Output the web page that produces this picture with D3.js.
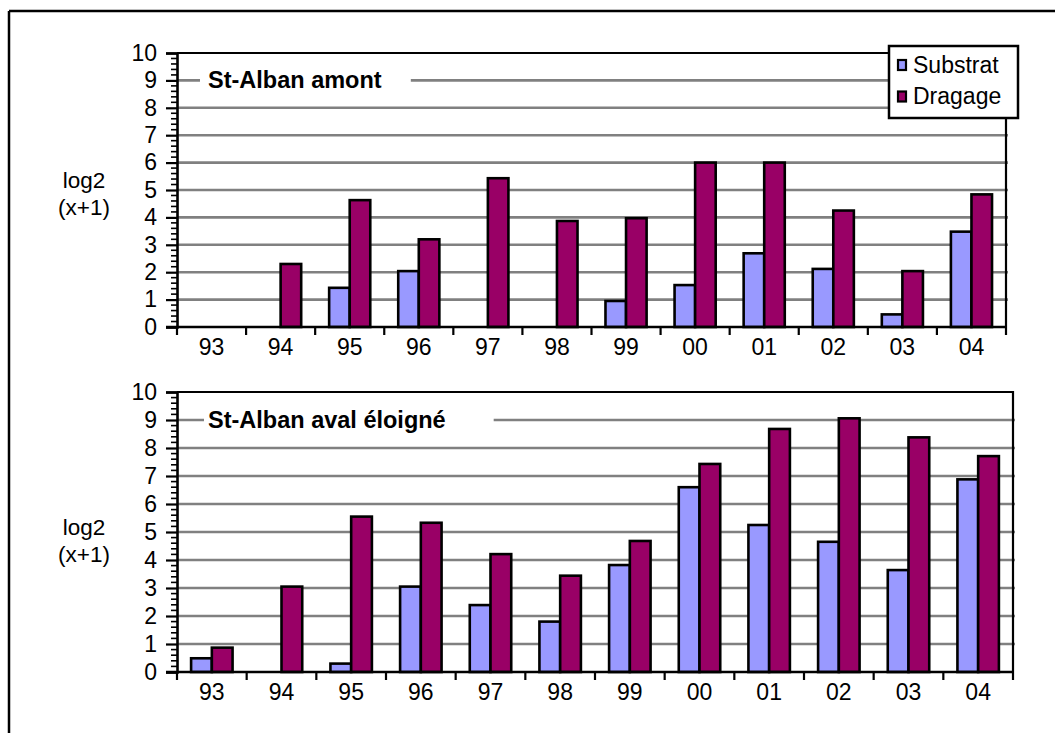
<!DOCTYPE html>
<html><head><meta charset="utf-8">
<script src="https://cdn.jsdelivr.net/npm/d3@7"></script>
<style>
html,body{margin:0;padding:0;background:#fff;}
svg text{font-family:"Liberation Sans",Arial,sans-serif;fill:#000;}
</style></head>
<body><svg id="c" width="1055" height="733"></svg>
<script>
const categories = ["93","94","95","96","97","98","99","00","01","02","03","04"];
const seriesNames = ["Substrat","Dragage"];
const amontSubstrat = [0, 0, 1.43, 2.04, 0, 0, 0.95, 1.53, 2.69, 2.12, 0.46, 3.48];
const amontDragage  = [0, 2.3, 4.63, 3.2, 5.43, 3.87, 3.97, 6.0, 6.0, 4.25, 2.04, 4.84];
const avalSubstrat  = [0.49, 0, 0.3, 3.05, 2.39, 1.8, 3.82, 6.6, 5.25, 4.65, 3.64, 6.88];
const avalDragage   = [0.87, 3.05, 5.55, 5.33, 4.21, 3.44, 4.68, 7.43, 8.68, 9.06, 8.38, 7.71];
const yTicks = [0,1,2,3,4,5,6,7,8,9,10];
const panelTitles = ["St-Alban amont", "St-Alban aval éloigné"];
const yLabelLines = ["log2", "(x+1)"];

const colors = {Substrat:"#9999FF", Dragage:"#990066"};
const svg = d3.select("#c");

// outer frame
svg.append("line").attr("x1",9).attr("x2",1055).attr("y1",11).attr("y2",11).attr("stroke","#000").attr("stroke-width",2.5);
svg.append("line").attr("x1",9).attr("x2",9).attr("y1",11).attr("y2",733).attr("stroke","#000").attr("stroke-width",2.5);

const panels = [
  {title:panelTitles[0], sub:amontSubstrat, drag:amontDragage, x0:177, x1:1006, yTop:53, yZero:327, titlePadL:8, titlePadR:29, legend:true, labY:188},
  {title:panelTitles[1], sub:avalSubstrat, drag:avalDragage, x0:177, x1:1013, yTop:392, yZero:672, titlePadL:4, titlePadR:48, legend:false, labY:535}
];

panels.forEach(p => {
  const g = svg.append("g");
  const x = d3.scaleBand().domain(categories).range([p.x0, p.x1]).paddingInner(0).paddingOuter(0);
  const xs = d3.scaleBand().domain(seriesNames).range([0, x.bandwidth()]).paddingInner(0).paddingOuter(0.68);
  const y = d3.scaleLinear().domain([0,10]).range([p.yZero, p.yTop]);

  // gridlines
  g.append("g").selectAll("line").data(yTicks.filter(t => t>0 && t<10)).join("line")
    .attr("x1", p.x0).attr("x2", p.x1+2).attr("y1", d=>y(d)).attr("y2", d=>y(d))
    .attr("stroke","#808080").attr("stroke-width",2.6);

  // plot border (top & right)
  g.append("path").attr("d", `M${p.x0},${p.yTop}H${p.x1}V${p.yZero}`).attr("fill","none").attr("stroke","#000").attr("stroke-width",2.2);

  // title with white background
  const tg = g.append("g");
  const tt = tg.append("text").attr("x", p.x0 + 31).attr("y", y(9)+8).attr("font-size",23.5).attr("font-weight","bold").text(p.title);
  const bb = tt.node().getBBox();
  tg.insert("rect","text").attr("x", bb.x - p.titlePadL).attr("y", y(9)-4).attr("width", bb.width + p.titlePadL + p.titlePadR).attr("height", 8).attr("fill","#fff");

  // bars
  const rows = categories.map((c,i) => ({c, vals:[{s:"Substrat", v:p.sub[i]}, {s:"Dragage", v:p.drag[i]}]}));
  const bars = g.append("g").selectAll("g").data(rows).join("g").attr("transform", d=>`translate(${x(d.c)},0)`);
  bars.selectAll("rect").data(d=>d.vals.filter(v=>v.v>0)).join("rect")
    .attr("x", d=>xs(d.s)).attr("width", xs.bandwidth())
    .attr("y", d=>y(d.v)).attr("height", d=>y(0)-y(d.v))
    .attr("fill", d=>colors[d.s]).attr("stroke","#000").attr("stroke-width",2.6);

  // y axis
  const yAxis = d3.axisLeft(y).tickValues(yTicks).tickSize(11).tickPadding(9).tickFormat(d3.format("d"));
  const ya = g.append("g").attr("transform",`translate(${p.x0},0)`).call(yAxis);
  ya.select(".domain").attr("stroke","#000").attr("stroke-width",2.6);
  ya.selectAll(".tick line").attr("stroke","#000").attr("stroke-width",2.2);
  ya.selectAll(".tick text").attr("font-size",23).attr("font-family",'"Liberation Sans",Arial,sans-serif');
  const minor = d3.range(0, 10.0001, 0.2).filter(v => Math.abs(v - Math.round(v)) > 1e-6);
  g.append("g").selectAll("line").data(minor).join("line")
    .attr("x1", p.x0-6).attr("x2", p.x0).attr("y1", d=>y(d)).attr("y2", d=>y(d))
    .attr("stroke","#000").attr("stroke-width",1.6);

  // x axis
  const xAxis = d3.axisBottom(x).tickSize(0).tickPadding(12);
  const xa = g.append("g").attr("transform",`translate(0,${p.yZero})`).call(xAxis);
  xa.select(".domain").remove();
  xa.selectAll(".tick text").attr("font-size",23).attr("font-family",'"Liberation Sans",Arial,sans-serif');
  g.append("line").attr("x1", p.x0-11).attr("x2", p.x1).attr("y1", p.yZero).attr("y2", p.yZero).attr("stroke","#000").attr("stroke-width",2.6);
  const bounds = categories.map(c=>x(c)).concat([p.x1]);
  g.append("g").selectAll("line").data(bounds).join("line")
    .attr("x1", d=>d).attr("x2", d=>d).attr("y1", p.yZero).attr("y2", p.yZero+8)
    .attr("stroke","#000").attr("stroke-width",2.2);

  // y label
  g.append("g").selectAll("text").data(yLabelLines).join("text")
    .attr("x", 84).attr("y", (d,i)=>p.labY + i*27).attr("text-anchor","middle").attr("font-size",22.5).text(d=>d);

  // legend
  if (p.legend) {
    const lg = g.append("g");
    lg.append("rect").attr("x",889).attr("y",46).attr("width",129).attr("height",72).attr("fill","#fff").attr("stroke","#000").attr("stroke-width",2.5);
    const items = lg.selectAll("g").data(seriesNames).join("g").attr("transform",(d,i)=>`translate(0,${i*31.5})`);
    items.append("rect").attr("x",898).attr("y",60).attr("width",8).attr("height",10).attr("fill",d=>colors[d]).attr("stroke","#000").attr("stroke-width",2.2);
    items.append("text").attr("x",913).attr("y",72.5).attr("font-size",23).text(d=>d);
  }
});
</script></body></html>
